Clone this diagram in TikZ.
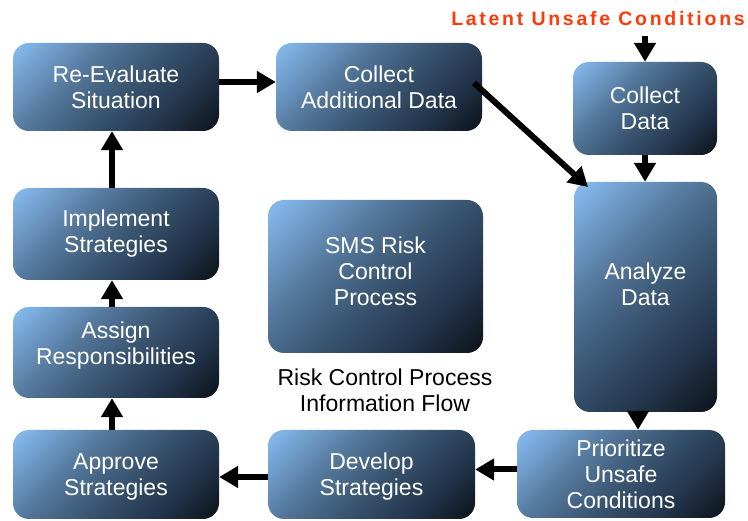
\documentclass[tikz,border=0pt]{standalone}
\usepackage{fontspec}
\setmainfont{Liberation Sans}
\newfontfamily\latentfont[LetterSpace=14]{Liberation Sans}
\usetikzlibrary{arrows.meta}
\definecolor{gA}{HTML}{82B6EA}
\definecolor{gB}{HTML}{54779B}
\definecolor{gC}{HTML}{3B5773}
\definecolor{gD}{HTML}{22344A}
\definecolor{gE}{HTML}{0E151D}
\definecolor{latent}{HTML}{FF3A0A}
\pgfdeclarehorizontalshading{boxgrad}{100bp}{color(0bp)=(gA); color(17bp)=(gA); color(38bp)=(gB); color(52bp)=(gC); color(70bp)=(gD); color(84bp)=(gE); color(100bp)=(gE)}
\tikzset{
  box/.style={rounded corners=16pt, shading=boxgrad, shading angle=-45, draw=none,
    text=white, align=center, inner sep=0pt, font=\fontsize{23}{26}\selectfont},
  flow/.style={line width=6pt, -{Triangle[length=19pt,width=21pt]}},
  plain/.style={align=center, inner sep=0pt, font=\fontsize{23}{26}\selectfont}
}
\begin{document}
\begin{tikzpicture}[x=1pt,y=-1pt]
\useasboundingbox (0,0) rectangle (748,521);
\node[box, minimum width=206pt, minimum height=88pt] (reeval) at (116,87) {Re-Evaluate\\Situation};
\node[box, minimum width=206pt, minimum height=88pt] (colladd) at (379,87) {Collect\\Additional Data};
\node[box, minimum width=144pt, minimum height=93pt] (colldata) at (645,108.5) {Collect\\Data};
\node[box, minimum width=143pt, minimum height=230pt] (analyze) at (645.5,297) {};
\node[plain, text=white] (analyzetxt) at (645.5,284) {Analyze\\Data};
\node[box, minimum width=208pt, minimum height=88pt] (prior) at (621,474) {Prioritize\\Unsafe\\Conditions};
\node[box, minimum width=207pt, minimum height=89pt] (develop) at (371.5,474.5) {};
\node[plain, text=white] (developtxt) at (371.5,477) {Develop\\Strategies};
\node[box, minimum width=206pt, minimum height=89pt] (approve) at (116,474.5) {};
\node[plain, text=white] (approvetxt) at (116,477) {Approve\\Strategies};
\node[box, minimum width=206pt, minimum height=91pt] (assign) at (116,352.5) {};
\node[plain, text=white] (assigntxt) at (116,345.5) {Assign\\Responsibilities};
\node[box, minimum width=206pt, minimum height=92pt] (implement) at (116,234) {Implement\\Strategies};
\node[box, minimum width=215pt, minimum height=153pt] (sms) at (375.5,276.5) {};
\node[plain, text=white] (smstxt) at (375.5,271) {SMS Risk\\Control\\Process};
\node[plain, text=black] (caption) at (385,390) {Risk Control Process\\Information Flow};
\node[inner sep=0pt, text=latent, font=\latentfont\bfseries\fontsize{19.5}{21}\selectfont] (latenttxt) at (598,19) {Latent Unsafe Conditions};
\coordinate (latentfoot) at (645,36);
\coordinate (diagstart) at (474,83);
\coordinate (diagend) at (588,187);
\draw[flow] ([yshift=5pt]reeval.east) -- ([yshift=5pt]colladd.west);
\draw[flow] (diagstart) -- (diagend);
\draw[flow] (latentfoot) -- (colldata.north);
\draw[flow] (colldata.south) -- (colldata.south |- analyze.north);
\draw[flow] ([xshift=-7.5pt]analyze.south) -- ([xshift=-7.5pt]analyze.south |- prior.north);
\draw[flow] ([yshift=4.5pt]prior.west) -- ([yshift=4.5pt]prior.west -| develop.east);
\draw[flow] ([yshift=-2.5pt]develop.west) -- ([yshift=-2.5pt]develop.west -| approve.east);
\draw[flow] ([xshift=-4pt]approve.north) -- ([xshift=-4pt]assign.south);
\draw[flow] ([xshift=-4pt]assign.north) -- ([xshift=-4pt]implement.south);
\draw[flow] ([xshift=-4pt]implement.north) -- ([xshift=-4pt]reeval.south);
\end{tikzpicture}
\end{document}
